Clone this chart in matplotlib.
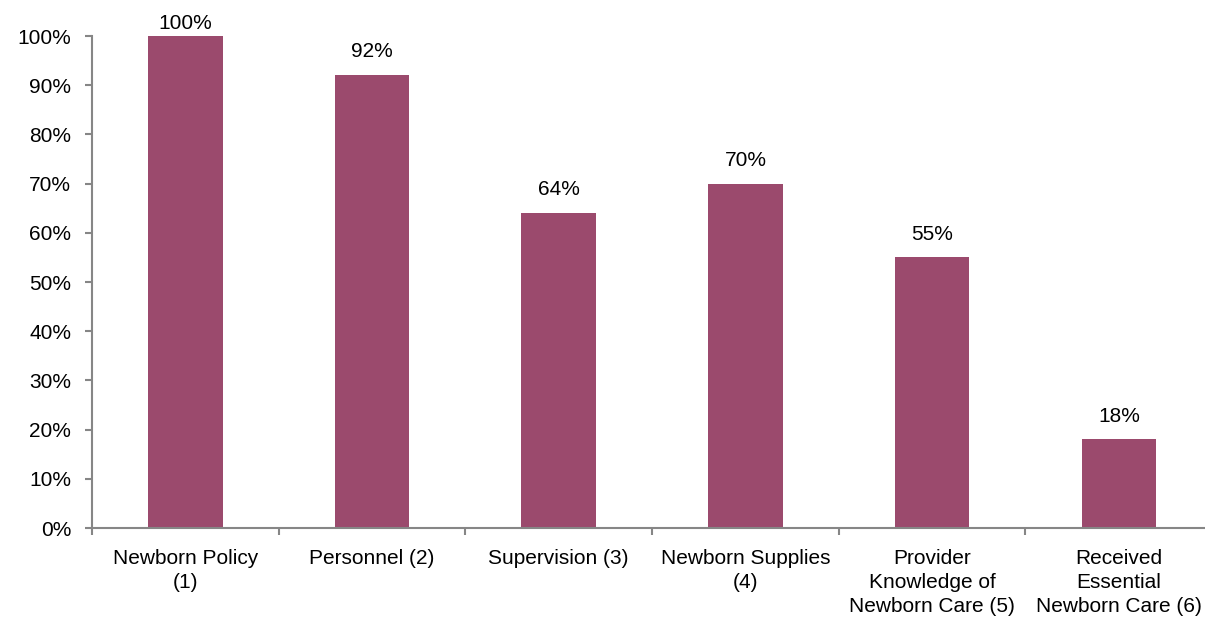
import matplotlib.pyplot as plt
from matplotlib.ticker import PercentFormatter, FixedLocator
import numpy as np

categories = ["Newborn Policy\n(1)", "Personnel (2)", "Supervision (3)",
              "Newborn Supplies\n(4)", "Provider\nKnowledge of\nNewborn Care (5)",
              "Received\nEssential\nNewborn Care (6)"]
values = [100, 92, 64, 70, 55, 18]

bar_color = '#9B4A6D'
axis_color = '#868686'
fs = 15

plt.rcParams['font.family'] = ['Liberation Sans', 'DejaVu Sans']

fig = plt.figure(figsize=(12.05, 6.22), dpi=100)
ax = fig.add_axes([92/1205, 94/622, 6*186.7/1205, 492/622])

x = np.arange(len(values))
ax.bar(x, values, width=0.4, color=bar_color)

for xi, v in zip(x, values):
    off = 10 if v < 95 else 2
    ax.annotate(f"{v}%", (xi, v), xytext=(0, off), textcoords='offset points',
                ha='center', va='bottom', fontsize=fs, annotation_clip=False)

ax.set_xlim(-0.5, len(values) - 0.5)
ax.set_ylim(0, 100)
ax.set_yticks(np.arange(0, 101, 10))
ax.yaxis.set_major_formatter(PercentFormatter(decimals=0))

ax.set_xticks(x)
ax.set_xticklabels(categories, fontsize=fs, linespacing=1.35)
ax.xaxis.set_minor_locator(FixedLocator(np.arange(-0.5, len(values), 1)))
ax.tick_params(axis='x', which='major', length=0, pad=15)
ax.tick_params(axis='x', which='minor', length=5, color=axis_color, width=1.5)
ax.tick_params(axis='y', length=5, color=axis_color, width=1.5, labelsize=fs, pad=10)

for s in ['top', 'right']:
    ax.spines[s].set_visible(False)
for s in ['left', 'bottom']:
    ax.spines[s].set_color(axis_color)
    ax.spines[s].set_linewidth(1.5)

fig.savefig('out.png', dpi=100)
